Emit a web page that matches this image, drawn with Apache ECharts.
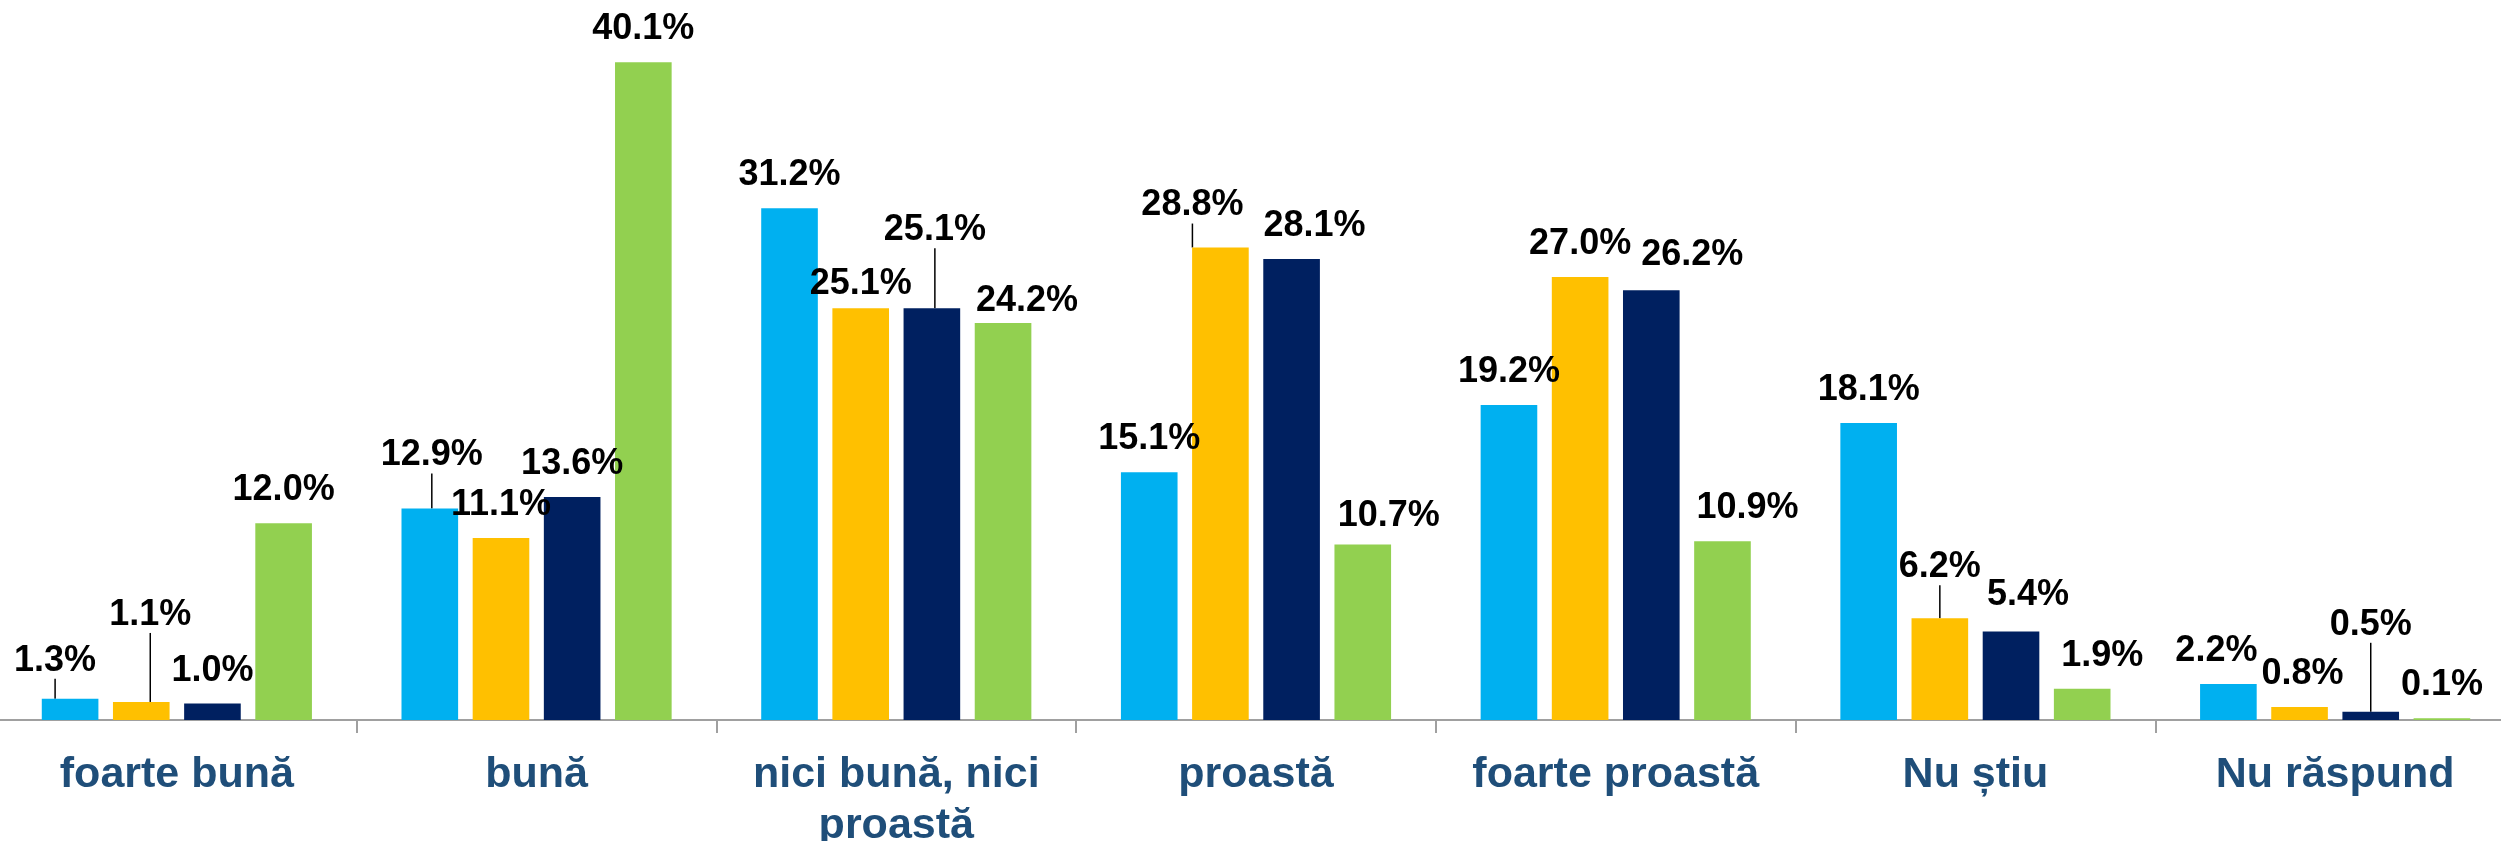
<!DOCTYPE html>
<html>
<head>
<meta charset="utf-8">
<title>Evaluare</title>
<script src="https://cdn.jsdelivr.net/npm/echarts@6/dist/echarts.min.js"></script>
<style>
  html, body { margin: 0; padding: 0; background: #fff; }
  #chart { width: 2501px; height: 841px; }
</style>
</head>
<body>
<div id="chart"></div>
<script>
// categorii de raspuns
var categories = ['foarte bună', 'bună', 'nici bună, nici\nproastă', 'proastă', 'foarte proastă', 'Nu știu', 'Nu răspund'];

// procente pe serii (4 serii, fara legenda in original)
var seria1 = [1.3, 12.9, 31.2, 15.1, 19.2, 18.1, 2.2];
var seria2 = [1.1, 11.1, 25.1, 28.8, 27.0, 6.2, 0.8];
var seria3 = [1.0, 13.6, 25.1, 28.1, 26.2, 5.4, 0.5];
var seria4 = [12.0, 40.1, 24.2, 10.7, 10.9, 1.9, 0.1];

var culori = ['#00B0F0', '#FFC000', '#002060', '#92D050'];

// mutari manuale ale etichetelor [dx, dy], ca in graficul original
var mutari = [
	[[-15, -5], [2, -20], [0, 0], [0, 0], [0, 0], [0, 0], [-12, 0]],
	[[9, -54], [0, 0], [0, 9], [-28, -9], [0, 0], [0, -18], [3, 0]],
	[[0, 0], [0, 0], [3, -45], [23, 0], [41, -2], [17, -3], [0, -54]],
	[[0, 0], [0, 0], [24, 11], [26, 5], [25, 0], [20, 0], [0, 0]]
];
// etichetele cu linie de legatura
var cuLinie = [[0, 1], [0, 3, 5], [2, 6], []];

function faSerie(idx, valori) {
	var date = valori.map(function(v, i) {
		var item = { value: v };
		if (cuLinie[idx].indexOf(i) >= 0) {
			item.labelLine = { show: true };
		}
		return item;
	});
	return {
		type: 'bar',
		name: 'Seria ' + (idx + 1),
		data: date,
		barGap: '25.7%',
		barCategoryGap: '24.9%',
		itemStyle: { color: culori[idx] },
		label: {
			show: true,
			position: 'top',
			distance: 15,
			color: '#000',
			fontFamily: 'Liberation Sans, Arial, sans-serif',
			fontWeight: 'bold',
			fontSize: 36,
			formatter: function(p) { return p.value.toFixed(1) + '%'; }
		},
		labelLine: {
			show: false,
			lineStyle: { color: '#000', width: 1.5 }
		},
		labelLayout: function(p) {
			var m = mutari[idx][p.dataIndex];
			return { dx: m[0], dy: m[1] };
		},
		animation: false
	};
}

var chart = echarts.init(document.getElementById('chart'), null, { renderer: 'canvas' });
chart.setOption({
	backgroundColor: '#fff',
	animation: false,
	grid: { left: -3, right: -14, top: 31, bottom: 121, containLabel: false, outerBoundsMode: 'none' },
	xAxis: {
		type: 'category',
		data: categories,
		axisLine: { lineStyle: { color: '#A0A0A0', width: 2 } },
		axisTick: { show: true, length: 13, lineStyle: { color: '#A0A0A0', width: 2 } },
		axisLabel: {
			margin: 30,
			color: '#1F4E79',
			fontFamily: 'Liberation Sans, Arial, sans-serif',
			fontWeight: 'bold',
			fontSize: 43,
			lineHeight: 51,
			interval: 0
		}
	},
	yAxis: {
		type: 'value',
		min: 0,
		max: 42,
		show: false,
		splitLine: { show: false }
	},
	series: [
		faSerie(0, seria1),
		faSerie(1, seria2),
		faSerie(2, seria3),
		faSerie(3, seria4)
	]
});
</script>
</body>
</html>
